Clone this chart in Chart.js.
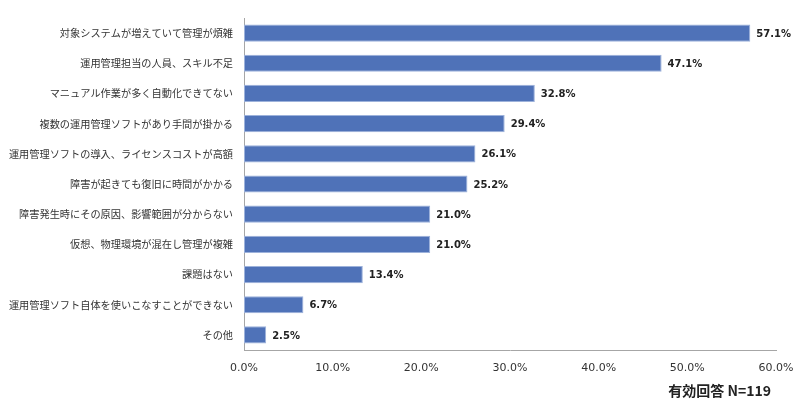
<!DOCTYPE html>
<html>
<head>
<meta charset="utf-8">
<script src="https://cdn.jsdelivr.net/npm/chart.js@4"></script>
<style>
    html, body { margin: 0; padding: 0; background: #fff; }
    #wrap { width: 800px; height: 408px; position: relative; }
</style>
</head>
<body>
<div id="wrap"><canvas id="chart"></canvas></div>
<script>
// ========== データ ==========
const categories = [
    '対象システムが増えていて管理が煩雑',
    '運用管理担当の人員、スキル不足',
    'マニュアル作業が多く自動化できてない',
    '複数の運用管理ソフトがあり手間が掛かる',
    '運用管理ソフトの導入、ライセンスコストが高額',
    '障害が起きても復旧に時間がかかる',
    '障害発生時にその原因、影響範囲が分からない',
    '仮想、物理環境が混在し管理が複雑',
    '課題はない',
    '運用管理ソフト自体を使いこなすことができない',
    'その他'
];
const values = [57.1, 47.1, 32.8, 29.4, 26.1, 25.2, 21.0, 21.0, 13.4, 6.7, 2.5];
const xTicks = [0, 10, 20, 30, 40, 50, 60];
const noteText = '有効回答 N=119';

const jpFont = '"Noto Sans CJK JP", "Noto Sans", sans-serif';

// ========== 値ラベル + 注記 ==========
const labelPlugin = {
    id: 'valueLabels',
    afterDatasetsDraw(chart) {
        const ctx = chart.ctx;
        const meta = chart.getDatasetMeta(0);
        ctx.save();
        ctx.font = 'bold 10px "DejaVu Sans", sans-serif';
        ctx.fillStyle = '#222';
        ctx.textAlign = 'left';
        ctx.textBaseline = 'middle';
        meta.data.forEach((bar, i) => {
            ctx.fillText(values[i].toFixed(1) + '%', bar.x + 6, bar.y + 1);
        });
        ctx.font = 'bold 14px ' + jpFont;
        ctx.textAlign = 'right';
        ctx.fillStyle = '#222';
        ctx.fillText(noteText, 771, 391);
        ctx.restore();
    }
};

new Chart(document.getElementById('chart').getContext('2d'), {
    type: 'bar',
    data: {
        labels: categories,
        datasets: [{
            data: values,
            backgroundColor: '#4F72B8',
            borderColor: '#9DB2DB',
            borderWidth: 1,
            borderSkipped: false,
            categoryPercentage: 1,
            barPercentage: 0.57
        }]
    },
    options: {
        indexAxis: 'y',
        responsive: true,
        maintainAspectRatio: false,
        animation: false,
        layout: { padding: { top: 18, right: 24, bottom: 30, left: 0 } },
        plugins: {
            legend: { display: false },
            tooltip: { enabled: false }
        },
        scales: {
            x: {
                min: 0,
                max: 60,
                afterBuildTicks: scale => { scale.ticks = xTicks.map(v => ({ value: v })); },
                afterFit: scale => {
                    scale.height = 28;
                    scale.paddingLeft = 0;
                    scale.paddingRight = 0;
                },
                grid: { display: false, drawTicks: false },
                border: { display: true, color: '#A6A6A6', width: 1 },
                ticks: {
                    padding: 12,
                    color: '#333',
                    font: { size: 11, family: '"DejaVu Sans", sans-serif' },
                    callback: v => v.toFixed(1) + '%'
                }
            },
            y: {
                afterFit: scale => { scale.width = 244; },
                grid: { display: false, drawTicks: false },
                border: { display: true, color: '#A6A6A6', width: 1 },
                ticks: {
                    padding: 11,
                    color: '#333',
                    font: { size: 10.2, family: jpFont }
                }
            }
        }
    },
    plugins: [labelPlugin]
});
</script>
</body>
</html>
